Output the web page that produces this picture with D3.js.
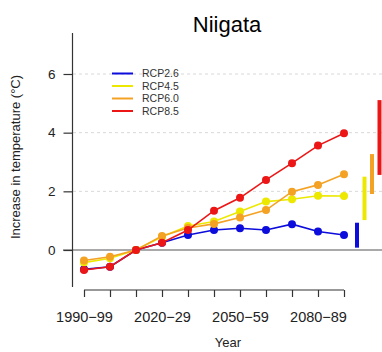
<!DOCTYPE html>
<html>
<head>
<meta charset="utf-8">
<script src="https://cdn.jsdelivr.net/npm/d3@7"></script>
<style>
  body { margin: 0; background: #fff; }
  svg { font-family: "Liberation Sans", Arial, sans-serif; }
</style>
</head>
<body>
<script>
//decades along the x axis, only every third one gets a label
var decades = ["1990-99", "2000-09", "2010-19", "2020-29", "2030-39", "2040-49",
               "2050-59", "2060-69", "2070-79", "2080-89", "2090-99"];
var labelled = ["1990-99", "2020-29", "2050-59", "2080-89"];
var scenarios = ["RCP2.6", "RCP4.5", "RCP6.0", "RCP8.5"];
var colors = ["#0c0cdc", "#ece800", "#f4a224", "#ec1616"];

//temperature change (degC) relative to 2010-19, one array per scenario
var rcp26 = [-0.66, -0.57, 0, 0.25, 0.51, 0.68, 0.74, 0.68, 0.88, 0.63, 0.51];
var rcp45 = [-0.43, -0.28, 0, 0.45, 0.82, 0.97, 1.31, 1.65, 1.73, 1.85, 1.84];
var rcp60 = [-0.36, -0.23, 0, 0.48, 0.75, 0.89, 1.11, 1.36, 1.99, 2.22, 2.58];
var rcp85 = [-0.68, -0.57, 0, 0.25, 0.68, 1.34, 1.78, 2.39, 2.96, 3.56, 3.98];
var series = [rcp26, rcp45, rcp60, rcp85];

//end-of-century ranges drawn as bars on the right
var rangeLow = [0.08, 1.02, 1.91, 2.56];
var rangeHigh = [0.93, 2.50, 3.27, 5.11];

var yTicks = [0, 2, 4, 6];

(function () {
    var width = 382, height = 352;

    var svg = d3.select("body").append("svg")
        .attr("width", width)
        .attr("height", height);

    var x = d3.scaleLinear().domain([0, decades.length - 1]).range([84, 344]);
    var y = d3.scaleLinear().domain([0, 6]).range([250, 74]);

    //title
    svg.append("text")
        .attr("x", 227).attr("y", 32)
        .attr("text-anchor", "middle")
        .style("font-size", "22px")
        .text("Niigata");

    //dashed gridlines
    svg.selectAll(".grid")
        .data(yTicks.filter(function (d) { return d > 0; }))
        .enter().append("line")
        .attr("x1", 73).attr("x2", width)
        .attr("y1", function (d) { return y(d); })
        .attr("y2", function (d) { return y(d); })
        .attr("stroke", "#d8d8d8")
        .attr("stroke-dasharray", "3,3");

    //zero line
    svg.append("line")
        .attr("x1", 63).attr("x2", width)
        .attr("y1", y(0)).attr("y2", y(0))
        .attr("stroke", "#555").attr("stroke-width", 1.2);

    //y axis
    var yAxis = d3.axisLeft(y).tickValues(yTicks).tickSize(9).tickPadding(8)
        .tickFormat(d3.format("d"));
    var gy = svg.append("g").attr("transform", "translate(72.5,0)").call(yAxis);
    gy.select(".domain").remove();
    gy.append("line").attr("y1", 33).attr("y2", 287).attr("stroke", "#333").attr("stroke-width", 1.2);
    gy.selectAll(".tick line").attr("stroke", "#333").attr("stroke-width", 1.2);
    gy.selectAll("text").style("font-size", "13.5px").attr("fill", "#222")
        .attr("font-family", "Liberation Sans, Arial, sans-serif");

    svg.append("text")
        .attr("transform", "translate(20,157) rotate(-90)")
        .attr("text-anchor", "middle")
        .style("font-size", "13px")
        .attr("fill", "#222")
        .text("Increase in temperature (\u00B0C)");

    //x axis
    var xAxis = d3.axisBottom(x)
        .tickValues(d3.range(decades.length))
        .tickSize(7).tickPadding(15)
        .tickFormat(function (i) {
            return labelled.indexOf(decades[i]) >= 0 ? decades[i].replace("-", "\u2212") : "";
        });
    var gx = svg.append("g").attr("transform", "translate(0,290)").call(xAxis);
    gx.select(".domain").attr("d", "M" + x(0) + ",0H" + x(decades.length - 1))
        .attr("stroke", "#333").attr("stroke-width", 1.2);
    gx.selectAll(".tick line").attr("stroke", "#333").attr("stroke-width", 1.2);
    gx.selectAll("text").style("font-size", "14.5px").attr("fill", "#222")
        .attr("font-family", "Liberation Sans, Arial, sans-serif");

    svg.append("text")
        .attr("x", 228).attr("y", 347)
        .attr("text-anchor", "middle")
        .style("font-size", "13px")
        .attr("fill", "#222")
        .text("Year");

    //lines and points per scenario
    var line = d3.line()
        .x(function (d, i) { return x(i); })
        .y(function (d) { return y(d); });

    series.forEach(function (vals, k) {
        svg.append("path")
            .datum(vals)
            .attr("d", line)
            .attr("fill", "none")
            .attr("stroke", colors[k])
            .attr("stroke-width", 1.6);
        svg.selectAll(".pt" + k)
            .data(vals)
            .enter().append("circle")
            .attr("class", "pt" + k)
            .attr("cx", function (d, i) { return x(i); })
            .attr("cy", function (d) { return y(d); })
            .attr("r", 4)
            .attr("fill", colors[k]);
    });

    //range bars right of the last decade
    svg.selectAll(".range")
        .data(scenarios)
        .enter().append("line")
        .attr("x1", function (d, i) { return x(decades.length - 1) + 13 + i * 7.5; })
        .attr("x2", function (d, i) { return x(decades.length - 1) + 13 + i * 7.5; })
        .attr("y1", function (d, i) { return y(rangeLow[i]); })
        .attr("y2", function (d, i) { return y(rangeHigh[i]); })
        .attr("stroke", function (d, i) { return colors[i]; })
        .attr("stroke-width", 4);

    //legend
    var legend = svg.selectAll(".legend")
        .data(scenarios)
        .enter().append("g")
        .attr("transform", function (d, i) { return "translate(112," + (73.5 + i * 12.5) + ")"; });
    legend.append("line")
        .attr("x1", 0).attr("x2", 21)
        .attr("stroke", function (d, i) { return colors[i]; })
        .attr("stroke-width", 2);
    legend.append("text")
        .attr("x", 30).attr("dy", "0.35em")
        .style("font-size", "10.5px")
        .attr("fill", "#333")
        .text(function (d) { return d; });
})();
</script>
</body>
</html>
